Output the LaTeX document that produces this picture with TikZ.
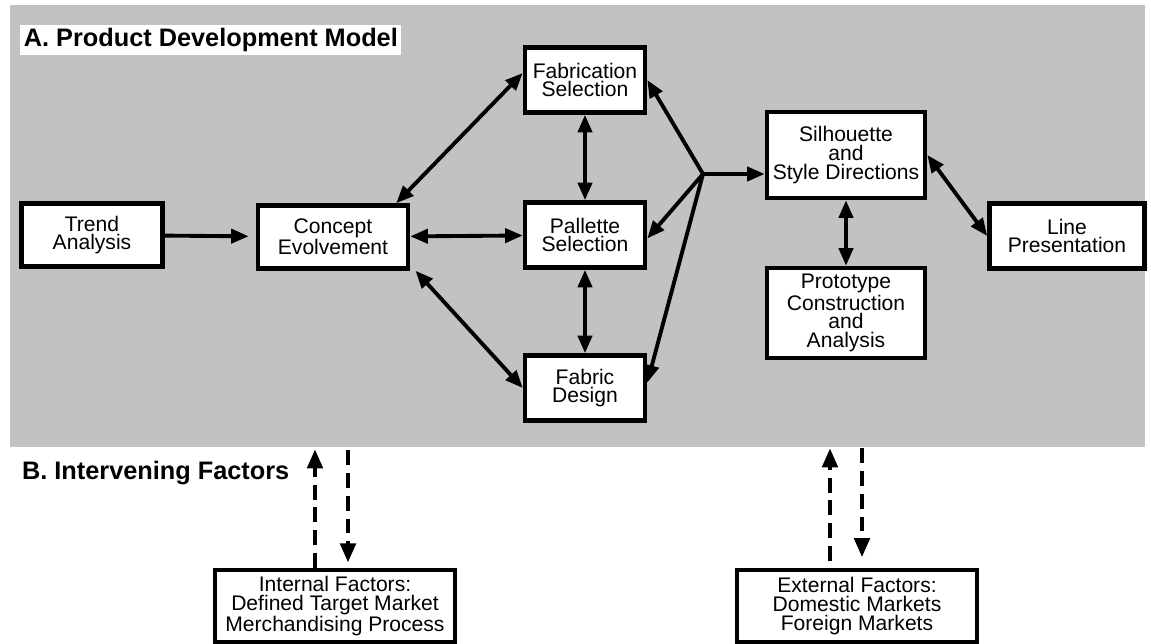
\documentclass[tikz,border=0pt]{standalone}
\usepackage{fontspec}
\setmainfont{Liberation Sans}
\usetikzlibrary{arrows.meta}

\begin{document}
\begin{tikzpicture}[
	stage/.style={draw, line width=2.6pt, fill=white, align=center, font=\fontsize{12}{10.6}\selectfont, inner sep=2pt},
	link/.style={line width=2.2pt, {Triangle[length=10pt,width=8pt]}-{Triangle[length=10pt,width=8pt]}},
	onelink/.style={line width=2.2pt, -{Triangle[length=10pt,width=8pt]}},
	factor/.style={line width=2.7pt, dash pattern=on 8.5pt off 4.5pt, -{Triangle[length=11pt,width=8.5pt]}}
	]
	% Frame and shaded model area
	\useasboundingbox (0,0) rectangle (23.02,12.86);
	\fill[black!24] (0.2,3.92) rectangle (22.9,12.76);
	% Headings
	\node[anchor=west, fill=white, inner sep=2pt, font=\bfseries\fontsize{14.4}{16}\selectfont] (tA) at (0.40,12.06) {A. Product Development Model};
	\node[anchor=west, inner sep=1pt, font=\bfseries\fontsize{14.4}{16}\selectfont] (tB) at (0.40,3.40) {B. Intervening Factors};
	% Model stages
	\node[stage, minimum width=2.82cm, minimum height=1.26cm] (trend) at (1.84,8.16) {Trend\\Analysis};
	\node[stage, minimum width=3.0cm, minimum height=1.26cm] (con) at (6.66,8.12) {Concept\\Evolvement};
	\node[stage, minimum width=2.4cm, minimum height=1.3cm] (fab) at (11.70,11.26) {Fabrication\\Selection};
	\node[stage, minimum width=2.4cm, minimum height=1.3cm] (pal) at (11.70,8.16) {Pallette\\Selection};
	\node[stage, minimum width=2.4cm, minimum height=1.3cm] (fd) at (11.70,5.10) {Fabric\\Design};
	\node[stage, minimum width=3.16cm, minimum height=1.72cm] (sil) at (16.92,9.76) {Silhouette\\and\\Style Directions};
	\node[stage, minimum width=3.16cm, minimum height=1.8cm] (pro) at (16.92,6.60) {Prototype\\Construction\\and\\Analysis};
	\node[stage, minimum width=3.1cm, minimum height=1.3cm] (line) at (21.34,8.14) {Line\\Presentation};
	% Factor boxes
	\node[stage, line width=2.2pt, minimum width=4.8cm, minimum height=1.44cm] (int) at (6.70,0.74) {Internal Factors:\\Defined Target Market\\Merchandising Process};
	\node[stage, line width=2.2pt, minimum width=4.8cm, minimum height=1.44cm] (ext) at (17.14,0.74) {External Factors:\\Domestic Markets\\Foreign Markets};
	% Branch point
	\coordinate (jn) at (14.06,9.38);
	% Connectors
	\draw[onelink, shorten >=4pt] (trend) -- (con);
	\draw[link] ([xshift=-8pt]con.north east) -- ([yshift=4pt]fab.west);
	\draw[link] (con) -- (pal);
	\draw[link] ([xshift=3pt]con.south east) -- (fd.west);
	\draw[link] (fab) -- (pal);
	\draw[link] (pal) -- (fd);
	\draw[onelink] (jn) -- (fab.east);
	\draw[onelink] (jn) -- ([yshift=-2pt]pal.east);
	\draw[onelink] (jn) -- ([yshift=3pt]fd.east);
	\draw[onelink] (jn) -- (sil.west |- jn);
	\draw[link] (sil) -- (pro);
	\draw[link] (sil.east) -- (line.west);
	% Intervening factors
	\coordinate (inUp) at (6.30,3.88);
	\coordinate (inDn) at (6.96,3.86);
	\coordinate (exUp) at (16.60,3.90);
	\coordinate (exDn) at (17.24,3.90);
	\draw[factor] (int.north -| inUp) -- (inUp);
	\draw[factor, shorten >=3pt] (inDn) -- (int.north -| inDn);
	\draw[factor, shorten <=4pt] (ext.north -| exUp) -- (exUp);
	\draw[factor, shorten >=6pt] (exDn) -- (ext.north -| exDn);
\end{tikzpicture}
\end{document}
